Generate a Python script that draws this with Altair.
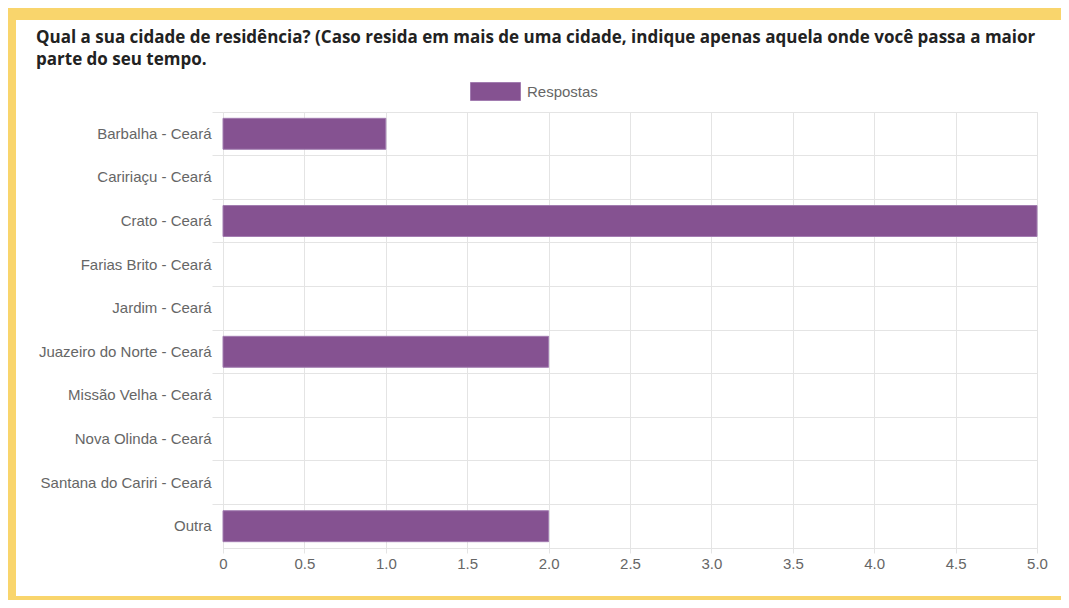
import altair as alt
import pandas as pd

categories = [
    "Barbalha - Ceará",
    "Caririaçu - Ceará",
    "Crato - Ceará",
    "Farias Brito - Ceará",
    "Jardim - Ceará",
    "Juazeiro do Norte - Ceará",
    "Missão Velha - Ceará",
    "Nova Olinda - Ceará",
    "Santana do Cariri - Ceará",
    "Outra",
]
values = [1, 0, 5, 0, 0, 2, 0, 0, 0, 2]
series_name = "Respostas"
x_ticks = [0, 0.5, 1.0, 1.5, 2.0, 2.5, 3.0, 3.5, 4.0, 4.5, 5.0]
title_lines = [
    "Qual a sua cidade de residência? (Caso resida em mais de uma cidade, indique apenas aquela onde você passa a maior",
    "parte do seu tempo.",
]

df = pd.DataFrame({"cidade": categories, "respostas": values, "serie": [series_name] * len(categories)})

PURPLE = "#855291"
YELLOW = "#F9D56C"
GRID = "#e4e4e4"
LABEL = "#666666"
FS = 15

W, H = 814, 436
PL, PT, PR, PB = 215, 104, 24, 52

one = alt.Data(values=[{}])

top_strip = alt.Chart(one).mark_rect(color=YELLOW).encode(
    x=alt.value(-PL), x2=alt.value(W + PR), y=alt.value(-PT), y2=alt.value(-PT + 12)
)
left_strip = alt.Chart(one).mark_rect(color=YELLOW).encode(
    x=alt.value(-PL), x2=alt.value(-PL + 8), y=alt.value(-PT), y2=alt.value(H + PB)
)
bottom_strip = alt.Chart(one).mark_rect(color=YELLOW).encode(
    x=alt.value(-PL), x2=alt.value(W + PR), y=alt.value(H + PB - 4), y2=alt.value(H + PB)
)

title = alt.Chart(one).mark_text(
    align="left",
    baseline="alphabetic",
    font="Open Sans",
    fontSize=17,
    fontWeight="bold",
    color="#222222",
    lineHeight=22,
).encode(
    x=alt.value(-187),
    y=alt.value(-69),
    text=alt.value(title_lines),
)

bars = alt.Chart(df).transform_filter("datum.respostas > 0").mark_bar(
    height={"band": 0.71}, stroke="#a27cb0", strokeWidth=1
).encode(
    x=alt.X(
        "respostas:Q",
        scale=alt.Scale(domain=[0, 5], nice=False),
        axis=alt.Axis(
            title=None,
            values=x_ticks,
            labelExpr="datum.value == 0 ? '0' : format(datum.value, '.1f')",
            labelFlush=False,
            grid=True,
            gridColor=GRID,
            tickColor=GRID,
            tickSize=5,
            domainColor=GRID,
            labelColor=LABEL,
            labelFont="Liberation Sans",
            labelFontSize=FS,
            labelPadding=3,
        ),
    ),
    y=alt.Y(
        "cidade:N",
        scale=alt.Scale(domain=categories, paddingInner=0, paddingOuter=0),
        axis=alt.Axis(
            title=None,
            grid=True,
            bandPosition=0,
            gridColor=GRID,
            tickColor=GRID,
            tickSize=11,
            domainColor=GRID,
            labelColor=LABEL,
            labelFont="Liberation Sans",
            labelFontSize=FS,
            labelPadding=1,
        ),
    ),
    color=alt.Color(
        "serie:N",
        scale=alt.Scale(range=[PURPLE]),
        legend=alt.Legend(
            title=None,
            orient="none",
            legendX=247,
            legendY=-46,
            padding=0,
            symbolType="M-1,-0.36H1V0.36H-1Z",
            symbolSize=2500,
            symbolStrokeColor="#a27cb0",
            symbolStrokeWidth=1,
            symbolOpacity=1,
            labelColor=LABEL,
            labelFont="Liberation Sans",
            labelFontSize=FS,
            labelOffset=6,
        ),
    ),
)

chart = alt.layer(top_strip, left_strip, bottom_strip, title, bars).properties(
    width=W,
    height=H,
    padding={"left": PL, "top": PT, "right": PR, "bottom": PB},
    autosize=alt.AutoSizeParams(type="none"),
    background="white",
).configure_view(stroke=GRID)

chart.save("out.html", embed_options={"renderer": "svg", "actions": False})
